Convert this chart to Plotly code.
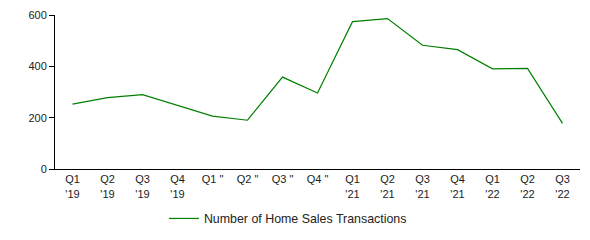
import plotly.graph_objects as go

quarters = ["Q1<br>'19", "Q2<br>'19", "Q3<br>'19", "Q4<br>'19",
            "Q1 \"", "Q2 \"", "Q3 \"", "Q4 \"",
            "Q1<br>'21", "Q2<br>'21", "Q3<br>'21", "Q4<br>'21",
            "Q1<br>'22", "Q2<br>'22", "Q3<br>'22"]
transactions = [253, 278, 290, 248, 206, 190, 358, 296,
                574, 586, 482, 465, 390, 392, 178]
series_name = "Number of Home Sales Transactions"
y_ticks = [0, 200, 400, 600]

fig = go.Figure()
fig.add_trace(go.Scatter(
    x=list(range(len(quarters))), y=transactions, mode="lines",
    name=series_name, line=dict(color="#008000", width=1.2),
    showlegend=True,
))
fig.update_layout(
    width=590, height=240,
    margin=dict(l=55, r=10, t=15, b=71, autoexpand=False),
    paper_bgcolor="white", plot_bgcolor="white",
    font=dict(family="Liberation Sans, Arial, sans-serif", size=11, color="#222"),
    showlegend=True,
    legend=dict(orientation="h", xref="container", yref="container",
                x=0.488, xanchor="center", y=0.088, yanchor="middle",
                font=dict(size=12.4, color="#222")),
    xaxis=dict(
        tickmode="array", tickvals=list(range(len(quarters))), ticktext=quarters,
        range=[-0.5, len(quarters) - 0.5], showgrid=False, zeroline=False,
        showline=True, linecolor="black", linewidth=1, ticks="", automargin=False,
    ),
    yaxis=dict(
        range=[0, 600], tickvals=y_ticks, showgrid=False, zeroline=False,
        showline=True, linecolor="black", linewidth=1, automargin=False,
        ticks="outside", ticklen=5, tickcolor="black",
    ),
)
fig.write_html("out.html")
